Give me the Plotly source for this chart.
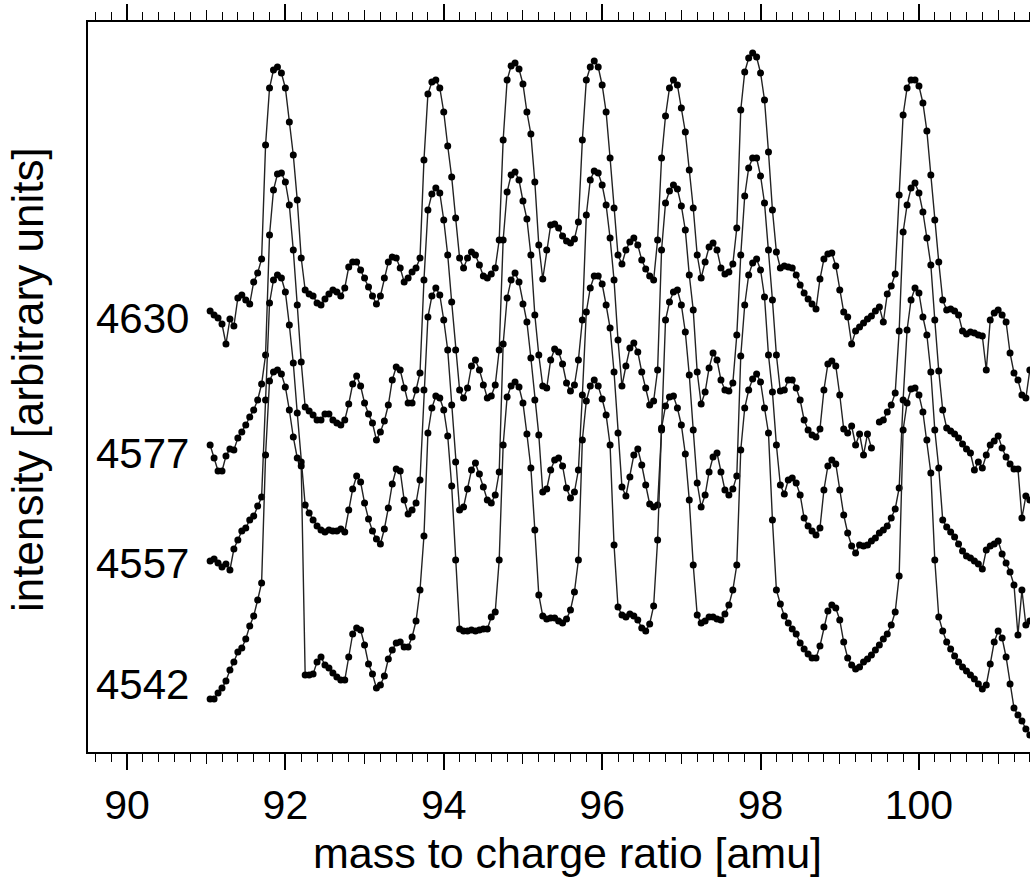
import numpy as np
import plotly.graph_objects as go

# mass axis sampling (amu)
mass = np.round(91.05 + 0.05 * np.arange(209), 2)

# stacked intensities (arbitrary units)
s4630 = [441, 437, 434, 428, 408, 433, 426, 454, 457, 452,
         448, 470, 479, 493, 607, 664, 682, 685, 679, 664,
         630, 597, 552, 494, 462, 458, 456, 449, 447, 453,
         458, 462, 460, 456, 464, 485, 490, 490, 482, 474,
         465, 456, 448, 456, 474, 490, 495, 494, 484, 470,
         474, 480, 484, 494, 592, 658, 670, 672, 664, 640,
         606, 575, 534, 494, 484, 494, 500, 497, 487, 476,
         474, 478, 484, 512, 612, 672, 686, 689, 683, 668,
         640, 618, 570, 507, 473, 502, 527, 528, 524, 516,
         511, 509, 513, 530, 612, 672, 685, 691, 685, 667,
         640, 594, 544, 497, 488, 502, 510, 514, 507, 492,
         483, 476, 472, 512, 594, 636, 664, 672, 667, 644,
         620, 582, 544, 497, 474, 490, 505, 509, 502, 484,
         478, 480, 488, 524, 642, 680, 694, 699, 695, 679,
         652, 600, 542, 500, 484, 486, 485, 484, 477, 467,
         459, 453, 448, 443, 473, 493, 498, 499, 486, 462,
         440, 435, 408, 421, 425, 429, 433, 436, 441, 445,
         430, 458, 466, 478, 557, 637, 664, 672, 672, 666,
         649, 621, 577, 532, 490, 452, 442, 443, 441, 437,
         421, 418, 420, 419, 417, 416, 382, 432, 439, 442,
         437, 430, 399, 379, 372, 357, 354, 382, 392]

s4577 = [307, 294, 281, 281, 296, 303, 302, 314, 320, 327,
         335, 342, 352, 368, 397, 517, 562, 578, 579, 570,
         547, 502, 447, 390, 345, 341, 337, 332, 332, 338,
         338, 332, 329, 327, 332, 348, 368, 376, 366, 349,
         338, 329, 312, 320, 331, 347, 372, 385, 382, 364,
         349, 349, 362, 379, 472, 542, 558, 564, 559, 532,
         497, 450, 402, 362, 354, 364, 386, 392, 382, 367,
         354, 356, 367, 402, 512, 560, 577, 580, 572, 551,
         533, 497, 437, 397, 366, 364, 392, 403, 400, 388,
         369, 361, 367, 392, 432, 537, 572, 581, 579, 567,
         547, 514, 472, 412, 366, 386, 404, 409, 400, 380,
         364, 347, 351, 382, 502, 549, 561, 567, 563, 546,
         522, 477, 442, 380, 348, 360, 384, 399, 392, 372,
         362, 361, 369, 417, 497, 556, 584, 594, 594, 576,
         549, 502, 452, 397, 361, 362, 372, 372, 364, 352,
         332, 322, 317, 315, 323, 362, 388, 391, 386, 357,
         323, 319, 326, 307, 318, 297, 318, 304, None, 330,
         332, 340, 347, 359, 421, 520, 547, 564, 569, 559,
         540, 514, 487, 432, 381, 342, 324, 321, 318, 314,
         308, 303, 299, 282, 290, 284, 297, 307, 311, 316,
         304, 295, 288, 283, 283, 234, 256, 252, 247]

s4557 = [191, 193, 189, 185, 188, 182, 203, 212, 221, 224,
         232, 236, 246, 255, 352, 449, 472, 477, 474, 460,
         427, 389, 339, 290, 247, 239, 232, 226, 222, 220,
         222, 221, 221, 223, 220, 242, 263, 276, 270, 249,
         233, 221, 213, 208, 223, 244, 268, 283, 281, 252,
         238, 242, 249, 272, 362, 435, 456, 464, 457, 432,
         402, 347, 290, 242, 245, 263, 282, 289, 278, 265,
         252, 249, 257, 280, 408, 454, 472, 479, 470, 448,
         430, 394, 352, 317, 260, 263, 282, 292, 294, 286,
         264, 254, 260, 282, 357, 440, 464, 476, 476, 468,
         447, 424, 380, 319, 265, 256, 275, 297, 303, 287,
         267, 248, 245, 247, 322, 432, 450, 460, 462, 447,
         420, 377, 322, 269, 245, 257, 280, 295, 299, 280,
         262, 257, 263, 276, 396, 447, 477, 489, 493, 482,
         455, 397, 360, 307, 267, 258, 272, 274, 269, 257,
         234, 226, 221, 217, 224, 262, 286, 292, 288, 262,
         237, 219, 206, 199, 207, 206, 207, 211, 214, 219,
         222, 226, 234, 243, 264, 352, 422, 452, 464, 459,
         435, 417, 380, 322, 284, 232, 225, 220, 215, 208,
         201, 196, 194, 191, 188, 183, 202, 206, 208, 211,
         198, 189, 180, 167, 117, 162, 127, 131, 127]

s4542 = [53, 53, 59, 64, 71, 82, 90, 100, 104, 113,
         126, 136, 152, 169, 297, 371, 380, 382, 378, 365,
         342, 315, 294, 286, 77, 77, 78, 90, 95, 87,
         84, 79, 75, 72, 72, 95, 118, 124, 122, 107,
         88, 78, 64, 67, 76, 93, 102, 109, 110, 105,
         105, 115, 131, 162, 216, 319, 344, 356, 354, 342,
         316, 266, 192, 123, 121, 121, 122, 121, 122, 123,
         123, 135, 140, 192, 307, 355, 366, 370, 365, 349,
         318, 284, 222, 157, 136, 133, 134, 134, 131, 129,
         133, 142, 160, 192, 312, 351, 366, 372, 366, 353,
         337, 307, 207, 145, 137, 135, 138, 136, 132, 124,
         121, 128, 146, 212, 324, 346, 355, 356, 344, 327,
         298, 252, 187, 137, 129, 131, 135, 135, 133, 132,
         138, 147, 162, 187, 302, 344, 362, 373, 378, 370,
         344, 319, 232, 162, 148, 136, 129, 123, 118, 109,
         103, 98, 94, 94, 106, 125, 141, 147, 144, 132,
         110, 94, 87, 83, 85, 90, 93, 97, 102, 107,
         113, 118, 127, 140, 176, 322, 349, 363, 364, 357,
         340, 312, 279, 192, 135, 121, 110, 103, 96, 90,
         85, 81, 77, 73, 68, 63, 67, 88, 110, 121,
         114, 95, 68, 44, 37, 31, 23, 17, 12]

series_labels = ["4630", "4577", "4557", "4542"]
label_levels = [434, 299, 189, 68]
all_series = [s4630, s4577, s4557, s4542]

for name, s in zip(series_labels, all_series):
    if len(s) != len(mass):
        raise ValueError(f"{name}: {len(s)} vs {len(mass)}")

FONT = "Liberation Sans, Arial, Helvetica, sans-serif"
XR = [89.508, 101.402]

fig = go.Figure()
for s in all_series:
    fig.add_trace(go.Scatter(
        x=mass, y=s, mode="lines+markers",
        line=dict(color="#222222", width=1.4),
        marker=dict(color="black", size=7, line=dict(width=0)),
        showlegend=False, hoverinfo="skip", connectgaps=False))

# empty trace so that the secondary (odd-integer tick) axis is drawn
fig.add_trace(go.Scatter(x=[], y=[], xaxis="x2", yaxis="y", showlegend=False))

fig.update_layout(
    width=1030, height=878,
    margin=dict(l=88, r=0, t=22, b=126),
    plot_bgcolor="white", paper_bgcolor="white",
    font=dict(family=FONT, size=40, color="black"),
    xaxis=dict(
        range=XR, tickmode="linear", tick0=90, dtick=2,
        ticks="outside", ticklen=16, tickwidth=1.5, tickcolor="black",
        showline=True, linecolor="black", linewidth=1.5, mirror="ticks",
        showgrid=False, zeroline=False,
        tickfont=dict(family=FONT, size=41, color="black"),
        minor=dict(ticks="outside", tick0=90, dtick=0.2, ticklen=8,
                   tickwidth=1.2, tickcolor="black", showgrid=False),
    ),
    xaxis2=dict(
        range=XR, overlaying="x", anchor="y", side="bottom",
        tickmode="linear", tick0=91, dtick=1,
        ticks="outside", ticklen=11, tickwidth=1.3, tickcolor="black",
        mirror="ticks", showline=False, showticklabels=False,
        showgrid=False, zeroline=False,
    ),
    yaxis=dict(
        range=[0, 730], showline=True, linecolor="black", linewidth=1.5,
        ticks="", showticklabels=False, showgrid=False, zeroline=False,
    ),
)

annotations = [
    dict(text="mass to charge ratio [amu]", xref="paper", yref="paper",
         x=(567 - 88) / 942, y=(752 - 853) / 730, xanchor="center",
         yanchor="middle", showarrow=False,
         font=dict(family=FONT, size=43, color="black")),
    dict(text="intensity [arbitrary units]", xref="paper", yref="paper",
         x=(27 - 88) / 942, y=(752 - 380) / 730, xanchor="center",
         yanchor="middle", textangle=-90, showarrow=False,
         font=dict(family=FONT, size=44, color="black")),
]
for lab, lvl in zip(series_labels, label_levels):
    annotations.append(dict(text=lab, xref="x", yref="y", x=90.81, y=lvl,
                            xanchor="right", yanchor="middle", showarrow=False,
                            font=dict(family=FONT, size=42, color="black")))
fig.update_layout(annotations=annotations)

fig.write_html("out.html")
